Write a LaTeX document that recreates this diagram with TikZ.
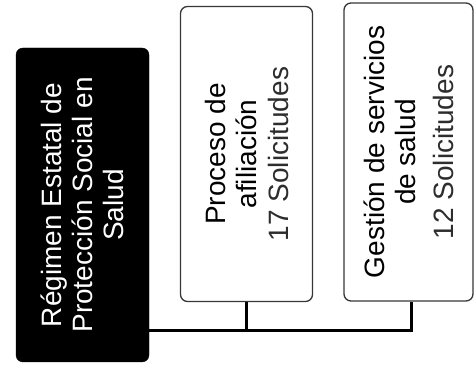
\documentclass[tikz,border=0pt]{standalone}
\usepackage{fontspec}
\setmainfont{Liberation Sans}
\usetikzlibrary{positioning, calc}
\definecolor{BoxEdge}{RGB}{55,55,55}
\definecolor{CountGray}{RGB}{45,45,45}
\tikzset{
  orgbox/.style={rounded corners=7pt, rotate=90, align=center, inner sep=2pt,
    font=\fontsize{28}{31}\selectfont},
  headbox/.style={orgbox, draw=black, fill=black, text=white,
    minimum width=314pt, minimum height=133pt},
  unitbox/.style={orgbox, draw=BoxEdge, line width=1.3pt, fill=white,
    minimum width=295pt, minimum height=132pt},
  link/.style={line width=3pt, black},
  count/.style={text=CountGray},
}

\begin{document}
\begin{tikzpicture}[x=1pt, y=1pt]
    \useasboundingbox (0,0) rectangle (474,366);
    \node[headbox] (reg) at (82.5,161)
      {R\'egimen Estatal de\\Protecci\'on Social en\\Salud};
    \node[unitbox] (afil) at (246.5,212)
      {Proceso de\\afiliaci\'on\\[1pt]{\color{CountGray}17 Solicitudes}};
    \node[unitbox, minimum width=298pt, minimum height=129pt] (serv) at (408.5,214)
      {Gesti\'on de servicios\\de salud\\[7pt]{\color{CountGray}12 Solicitudes}};
    \coordinate (bus) at (0,35);
    \draw[link] (reg.south |- bus) -| ($(serv.west)+(2.5,0)$);
    \draw[link] (afil.west) -- (afil.west |- bus);
  \end{tikzpicture}
\end{document}
